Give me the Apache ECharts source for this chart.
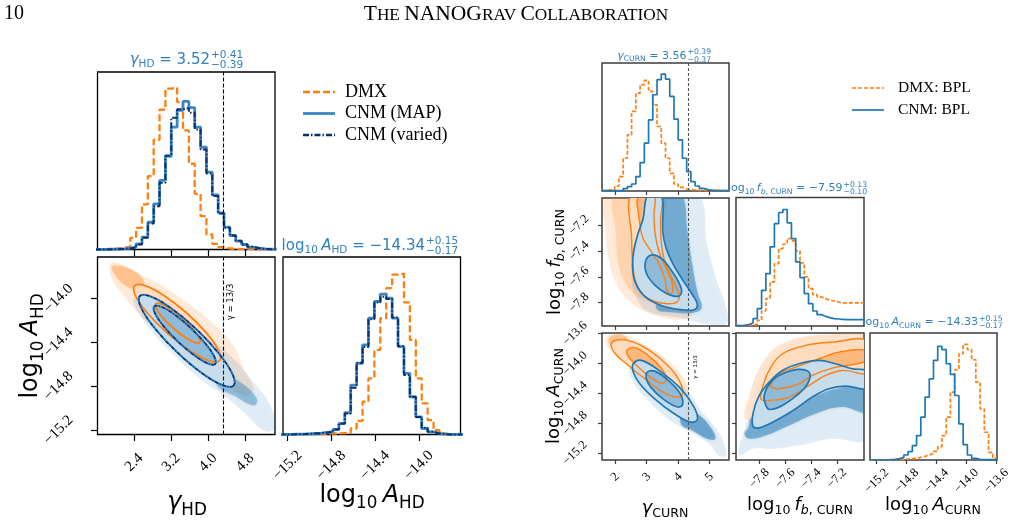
<!DOCTYPE html>
<html>
<head>
<meta charset="utf-8">
<title>NANOGrav corner plots</title>
<script src="https://cdn.jsdelivr.net/npm/echarts@6/dist/echarts.min.js"></script>
<style>
  html, body { margin: 0; padding: 0; background: #fff; }
  #chart { width: 1017px; height: 523px; }
</style>
</head>
<body>
<div id="chart"></div>
<script>
// ---- 颜色 ----
var ORANGE = '#ff7f0e', BLUE = '#1f77b4', MAP_BLUE = '#3a87c4', NAVY = '#0b2f6b'
var TITLE_BLUE = '#2f7fc1'

// ======== 左边: HD (gamma, log10 A) ========
var gammaGW = 13 / 3
var hdGammaRange = [1.607, 5.449]
var hdAmpRange = [-15.24, -13.62]
var hdGammaTicks = [2.4, 3.2, 4.0, 4.8]
var hdAmpTicks = [-15.2, -14.8, -14.4, -14.0]

// 直方图: [起点, 宽度] + 高度
var hdGammaBins = [1.555, 0.12685]
var hdGammaDmx = [1, 1, 2, 3, 5, 9, 35, 65, 135, 220, 329, 419, 482, 485, 442, 357, 257, 167, 100, 45, 17, 7, 3, 2, 1, 1, 1, 0, 0, 0, 0]
var hdGammaMap = [0, 0, 1, 1, 2, 4, 7, 17, 37, 82, 137, 207, 279, 367, 417, 444, 425, 367, 307, 232, 164, 110, 67, 42, 25, 15, 7, 4, 2, 1, 1]
var hdGammaVaried = [0, 0, 1, 1, 2, 3, 6, 15, 35, 78, 130, 200, 282, 395, 420, 424, 410, 360, 300, 228, 160, 108, 65, 42, 26, 15, 8, 4, 2, 1, 0]
var hdGammaMax = 532

var hdAmpBins = [-15.27, 0.054]
var hdAmpDmx = [0, 0, 0, 1, 1, 1, 2, 2, 3, 3, 4, 5, 18, 41, 98, 168, 253, 348, 438, 478, 481, 395, 283, 168, 93, 43, 13, 3, 1, 0, 0]
var hdAmpMap = [0, 0, 1, 1, 2, 3, 4, 6, 8, 15, 33, 65, 148, 213, 268, 348, 398, 420, 408, 348, 263, 183, 113, 53, 18, 8, 3, 1, 0, 0, 0]
var hdAmpVaried = [0, 0, 1, 1, 2, 3, 4, 6, 8, 15, 32, 63, 140, 215, 262, 345, 395, 412, 405, 350, 265, 178, 112, 52, 20, 8, 3, 1, 0, 0, 0]
var hdAmpMax = 531

// 2D: 点云轮廓 + 1σ/2σ 等高线 (gamma, log10 A)
var hdDmxCloud = [[1.888, -13.679], [2.177, -13.697], [2.537, -13.779], [2.969, -13.870], [3.546, -14.036], [4.123, -14.233], [4.555, -14.430], [4.771, -14.642], [4.987, -14.824], [4.843, -14.885], [4.483, -14.824], [4.123, -14.703], [3.546, -14.521], [2.969, -14.324], [2.537, -14.158], [2.177, -13.976], [1.924, -13.824]]
var hdDmxDense = [[1.924, -13.703], [2.249, -13.718], [2.537, -13.794], [2.609, -13.870], [2.393, -13.912], [2.177, -13.870], [1.996, -13.794]]
var hdCnmCloud = [[2.393, -14.006], [2.681, -13.976], [3.258, -14.097], [3.978, -14.339], [4.555, -14.552], [4.987, -14.764], [5.348, -14.976], [5.456, -15.188], [5.204, -15.203], [4.771, -15.036], [4.339, -14.885], [3.834, -14.733], [3.29, -14.53], [2.80, -14.31], [2.49, -14.12]]
var hdCnmDense = [[4.267, -14.703], [4.699, -14.764], [5.059, -14.915], [4.987, -14.976], [4.555, -14.885], [4.195, -14.794]]
var hdDmxOuter = [[4.249, -14.565], [4.025, -14.567], [3.616, -14.477], [3.129, -14.320], [2.697, -14.136], [2.434, -13.977], [2.411, -13.883], [2.634, -13.882], [3.044, -13.971], [3.530, -14.129], [3.963, -14.312], [4.226, -14.472]]
var hdDmxInner = [[3.820, -14.401], [3.709, -14.400], [3.500, -14.352], [3.249, -14.270], [3.024, -14.175], [2.884, -14.094], [2.868, -14.048], [2.979, -14.048], [3.188, -14.097], [3.439, -14.179], [3.664, -14.273], [3.804, -14.355]]
var hdCnmOuter = [[4.554, -14.794], [4.305, -14.788], [3.852, -14.675], [3.315, -14.483], [2.837, -14.265], [2.548, -14.080], [2.524, -13.976], [2.773, -13.982], [3.225, -14.095], [3.763, -14.286], [4.240, -14.504], [4.530, -14.690]]
var hdCnmInner = [[4.156, -14.596], [3.998, -14.592], [3.706, -14.518], [3.357, -14.395], [3.046, -14.256], [2.855, -14.137], [2.835, -14.071], [2.993, -14.075], [3.285, -14.148], [3.634, -14.272], [3.945, -14.411], [4.136, -14.530]]

// ======== 右边: CURN (gamma, log10 fb, log10 A) ========
var curnGammaRange = [1.58, 5.62]
var curnFbRange = [-7.98, -6.99]
var curnAmpRange = [-15.29, -13.59]
var curnGammaTicks = [2, 3, 4, 5]
var curnFbTicks = [-7.8, -7.6, -7.4, -7.2]
var curnAmpTicks = [-15.2, -14.8, -14.4, -14.0, -13.6]

var curnGammaBins = [1.58, 0.13467]
var curnGammaDmx = [1, 3, 5, 15, 43, 98, 168, 238, 293, 318, 331, 298, 258, 193, 143, 98, 53, 21, 11, 6, 4, 3, 2, 2, 1, 1, 1, 1, 1, 1]
var curnGammaCnm = [1, 1, 1, 1, 1, 7, 13, 21, 43, 85, 143, 213, 288, 333, 350, 335, 283, 215, 153, 98, 58, 28, 15, 8, 4, 2, 2, 1, 1, 1]
var curnGammaMax = 383

var curnFbBins = [-7.98, 0.033]
var curnFbDmx = [1, 1, 2, 3, 5, 17, 45, 82, 132, 187, 232, 245, 262, 255, 225, 189, 147, 112, 94, 87, 82, 77, 75, 72, 69, 69, 69, 69, 69, 70]
var curnFbCnm = [1, 2, 4, 9, 22, 52, 107, 157, 237, 307, 340, 349, 309, 262, 192, 145, 97, 67, 45, 34, 29, 25, 22, 21, 20, 19, 19, 19, 19, 19]
var curnFbMax = 385

var curnAmpBins = [-15.29, 0.05667]
var curnAmpDmx = [0, 0, 0, 0, 0, 1, 1, 2, 3, 4, 5, 8, 11, 15, 20, 26, 40, 73, 128, 203, 270, 318, 346, 330, 300, 233, 153, 83, 23, 6]
var curnAmpCnm = [0, 0, 0, 0, 1, 2, 4, 8, 15, 25, 43, 73, 128, 188, 243, 298, 340, 330, 288, 256, 193, 108, 46, 15, 5, 2, 1, 1, 1, 1]
var curnAmpMax = 380

// gamma - log10 fb
var gfDmxCloud = [[1.665, -6.96], [1.686, -7.226], [1.770, -7.431], [1.948, -7.610], [2.261, -7.738], [2.732, -7.841], [3.254, -7.897], [3.881, -7.931], [4.300, -7.918], [4.509, -7.867], [4.091, -7.738], [3.672, -7.482], [3.516, -7.226], [3.516, -6.96]]
var gfDmxDense = [[2.0, -6.96], [2.021, -7.277], [2.084, -7.482], [2.261, -7.623], [2.575, -7.726], [3.045, -7.790], [3.568, -7.821], [3.986, -7.815], [4.091, -7.738], [3.672, -7.482], [3.484, -7.226], [3.463, -6.96]]
var gfCnmCloud = [[3.045, -6.96], [4.613, -6.96], [4.927, -7.354], [5.240, -7.636], [5.501, -7.815], [5.554, -7.956], [5.031, -7.969], [4.091, -7.918], [3.045, -7.867], [2.627, -7.738], [2.523, -7.559], [2.627, -7.328]]
var gfCnmDense = [[3.442, -6.96], [4.10, -6.96], [4.30, -7.25], [4.45, -7.50], [4.62, -7.72], [4.75, -7.84], [4.50, -7.875], [3.90, -7.875], [3.30, -7.835], [3.568, -7.354]]
var gfDmxOuter = [[2.523, -6.96], [2.523, -7.303], [2.554, -7.482], [2.648, -7.636], [2.888, -7.738], [3.254, -7.790], [3.672, -7.808], [3.965, -7.795], [4.038, -7.751], [3.934, -7.674], [3.725, -7.572], [3.547, -7.456], [3.463, -7.328], [3.442, -7.174], [3.422, -6.96]]
var gfDmxInner = [[2.753, -6.96], [2.774, -7.174], [2.888, -7.303], [3.150, -7.405], [3.411, -7.508], [3.568, -7.610], [3.641, -7.700], [3.725, -7.733], [3.829, -7.713], [3.798, -7.636], [3.620, -7.533], [3.411, -7.418], [3.275, -7.277], [3.233, -7.123], [3.233, -6.96]]
var gfCnmOuter = [[3.045, -6.96], [2.888, -7.149], [2.711, -7.277], [2.585, -7.405], [2.554, -7.533], [2.648, -7.649], [2.941, -7.751], [3.463, -7.821], [4.091, -7.854], [4.509, -7.854], [4.613, -7.815], [4.456, -7.738], [4.143, -7.623], [3.829, -7.495], [3.620, -7.379], [3.516, -7.251], [3.463, -6.96]]
var gfCnmInner = [[3.150, -7.431], [2.962, -7.482], [2.993, -7.572], [3.254, -7.662], [3.620, -7.726], [3.986, -7.751], [4.111, -7.718], [4.038, -7.649], [3.777, -7.546], [3.463, -7.456]]

// gamma - log10 A
var gaDmxCloud = [[1.707, -13.667], [1.895, -13.60], [2.261, -13.613], [2.836, -13.721], [3.568, -13.913], [4.091, -14.136], [4.352, -14.359], [4.247, -14.582], [3.934, -14.560], [3.463, -14.426], [2.836, -14.203], [2.314, -14.002], [1.895, -13.846], [1.707, -13.747]]
var gaDmxDense = [[1.791, -13.667], [2.0, -13.613], [2.314, -13.631], [2.418, -13.712], [2.105, -13.779], [1.843, -13.756]]
var gaCnmCloud = [[2.523, -13.957], [2.888, -13.926], [3.568, -14.091], [4.300, -14.359], [4.770, -14.649], [5.136, -14.828], [5.397, -15.006], [5.533, -15.238], [5.293, -15.229], [4.979, -15.073], [4.561, -14.953], [4.143, -14.863], [3.568, -14.703], [2.941, -14.448], [2.575, -14.247], [2.439, -14.069]]
var gaCnmDense = [[4.195, -14.604], [4.613, -14.671], [5.031, -14.850], [5.188, -15.006], [4.927, -15.006], [4.456, -14.895], [4.091, -14.805]]
var gaDmxOuter = [[1.875, -13.734], [2.105, -13.680], [2.523, -13.703], [3.045, -13.810], [3.672, -14.024], [4.038, -14.225], [4.143, -14.404], [3.965, -14.448], [3.516, -14.381], [2.941, -14.203], [2.418, -14.024], [2.0, -13.868]]
var gaDmxInner = [[2.397, -13.810], [2.679, -13.792], [3.150, -13.926], [3.516, -14.091], [3.620, -14.225], [3.463, -14.261], [3.045, -14.158], [2.627, -14.002], [2.397, -13.890]]
var gaCnmOuter = [[2.575, -14.002], [2.836, -13.957], [3.463, -14.113], [4.091, -14.337], [4.509, -14.582], [4.613, -14.747], [4.404, -14.783], [3.881, -14.671], [3.254, -14.471], [2.784, -14.270], [2.575, -14.113]]
var gaCnmInner = [[3.024, -14.113], [3.275, -14.104], [3.725, -14.238], [4.070, -14.404], [4.143, -14.551], [3.965, -14.578], [3.516, -14.471], [3.129, -14.314], [2.993, -14.203]]

// log10 fb - log10 A
var faDmxCloud = [[-7.915, -14.716], [-7.877, -14.426], [-7.813, -14.113], [-7.723, -13.868], [-7.595, -13.712], [-7.415, -13.631], [-7.185, -13.60], [-6.96, -13.58], [-6.96, -14.136], [-7.236, -14.060], [-7.492, -14.091], [-7.672, -14.292], [-7.774, -14.560], [-7.864, -14.761]]
var faCnmCloud = [[-7.954, -15.229], [-7.928, -14.962], [-7.851, -14.716], [-6.96, -14.301], [-6.96, -15.006], [-7.236, -15.006], [-7.492, -15.096], [-7.697, -15.140], [-7.851, -15.140]]
var faCnmDense = [[-7.890, -14.872], [-7.851, -14.716], [-7.621, -14.627], [-7.364, -14.426], [-7.185, -14.328], [-6.96, -14.301], [-6.96, -14.649], [-7.159, -14.582], [-7.364, -14.671], [-7.569, -14.828], [-7.749, -14.962], [-7.877, -15.006], [-7.915, -14.939]]
var faDmxOuter = [[-7.787, -14.471], [-7.762, -14.247], [-7.710, -14.046], [-7.621, -13.868], [-7.441, -13.756], [-7.236, -13.712], [-6.96, -13.703], [-6.96, -14.113], [-7.159, -14.091], [-7.287, -14.158], [-7.415, -14.292], [-7.569, -14.448], [-7.723, -14.493]]
var faDmxInner = [[-7.710, -14.283], [-7.659, -14.149], [-7.518, -14.046], [-7.338, -13.935], [-7.185, -13.846], [-6.96, -13.828], [-6.96, -13.957], [-7.236, -14.060], [-7.390, -14.158], [-7.492, -14.270], [-7.646, -14.337], [-7.703, -14.319]]
var faCnmOuter = [[-7.851, -14.828], [-7.846, -14.649], [-7.80, -14.426], [-7.723, -14.247], [-7.621, -14.091], [-7.492, -14.002], [-7.338, -13.957], [-7.210, -14.002], [-7.082, -14.069], [-6.96, -14.104], [-6.96, -14.328], [-7.133, -14.301], [-7.262, -14.337], [-7.390, -14.448], [-7.518, -14.604], [-7.646, -14.738], [-7.749, -14.828], [-7.813, -14.863]]
var faCnmInner = [[-7.749, -14.560], [-7.762, -14.426], [-7.710, -14.247], [-7.621, -14.136], [-7.505, -14.078], [-7.421, -14.104], [-7.410, -14.203], [-7.454, -14.337], [-7.544, -14.471], [-7.646, -14.582], [-7.723, -14.613]]

// ---- 面板位置 [left, top, width, height] ----
var panels = [
  [97.5, 72, 177.5, 177.5], [97.5, 257, 177.5, 177.5], [283, 257, 177.5, 177.5],
  [602, 63, 127, 128], [602, 198, 127, 128], [736, 197.5, 128, 128.5],
  [602, 333, 127, 127], [736, 333, 128, 127], [870, 333, 127, 127]
]

function fmt (dec) {
  return function (v) { return (v < 0 ? '\u2212' : '') + Math.abs(v).toFixed(dec) }
}

function valueAxis (gi, range, ticks, margin, dec) {
  var small = gi > 2
  return {
    type: 'value', gridIndex: gi, min: range[0], max: range[1],
    axisLine: { show: false },
    splitLine: { show: false },
    axisTick: { show: true, customValues: ticks, length: small ? 4 : 6.5,
      lineStyle: { color: small ? '#3d3d3d' : '#000', width: 1.2 } },
    axisLabel: { show: !!margin, customValues: ticks, rotate: 45, align: 'center', verticalAlign: 'middle',
      margin: margin || 8, formatter: fmt(dec == null ? 1 : dec),
      fontFamily: 'Liberation Serif', fontSize: small ? 12.5 : 15, color: '#000' }
  }
}
function hiddenAxis (gi, max) {
  return { type: 'value', gridIndex: gi, min: 0, max: max, show: false }
}

// 直方图阶梯线
function steps (bins, h) {
  var pts = h.map(function (v, i) { return [bins[0] + i * bins[1], v] })
  pts.push([bins[0] + h.length * bins[1], h[h.length - 1]])
  return pts
}
function histLine (gi, bins, h, color, width, dash) {
  return {
    type: 'line', xAxisIndex: gi, yAxisIndex: gi, step: 'end', symbol: 'none', silent: true, z: 3,
    data: steps(bins, h), lineStyle: { color: color, width: width, type: dash || 'solid' }
  }
}
// gamma = 13/3 竖线
function gwLine (gi, color, dash) {
  return {
    type: 'line', xAxisIndex: gi, yAxisIndex: gi, data: [], silent: true, z: 9,
    markLine: { silent: true, symbol: 'none', label: { show: false }, animation: false,
      lineStyle: { color: color, width: 1.1, type: dash }, data: [{ xAxis: gammaGW }] }
  }
}
// 多边形 (轮廓/点云)
function poly (gi, pts, style, z) {
  return {
    type: 'custom', xAxisIndex: gi, yAxisIndex: gi, clip: true, silent: true, z: z, data: [0],
    renderItem: function (params, api) {
      return {
        type: 'polygon',
        shape: { points: pts.map(function (p) { return api.coord(p) }), smooth: 0.4 },
        style: style
      }
    }
  }
}
function cloud (gi, pts, color) { return poly(gi, pts, { fill: color, shadowBlur: 3, shadowColor: color }, 1) }
function blank (gi, pts, z) { return poly(gi, pts, { fill: '#fff' }, z) }
function area (gi, pts, color, z) { return poly(gi, pts, { fill: color }, z) }
function edge (gi, pts, color, w, dash, z) {
  return poly(gi, pts, { fill: 'none', stroke: color, lineWidth: w, lineDash: dash || null }, z)
}

var O2 = 'rgba(255,127,14,0.27)', O1 = 'rgba(255,127,14,0.38)'
var B2 = 'rgba(31,119,180,0.25)', B1 = 'rgba(31,119,180,0.33)'
var OC = 'rgba(255,127,14,0.14)', BC = 'rgba(31,119,180,0.12)'

// 先画 DMX, 再画 CNM (白底盖住下面的点云)
function contours (gi, d, lw, blueLine) {
  return [
    cloud(gi, d.oc, OC), cloud(gi, d.od, d.odColor), cloud(gi, d.bc, BC), cloud(gi, d.bd, d.bdColor),
    blank(gi, d.o2, 2),
    area(gi, d.o2, O2, 3), area(gi, d.o1, O1, 3),
    blank(gi, d.b2, 4),
    area(gi, d.b2, B2, 5), area(gi, d.b1, B1, 5),
    edge(gi, d.o2, ORANGE, lw, null, 6), edge(gi, d.o1, ORANGE, lw, null, 6),
    edge(gi, d.b2, blueLine, lw + 0.3, null, 7), edge(gi, d.b1, blueLine, lw + 0.3, null, 7)
  ]
}

var series = [].concat(
  // 左上: gamma HD
  histLine(0, hdGammaBins, hdGammaDmx, ORANGE, 2.3, [7, 3]),
  histLine(0, hdGammaBins, hdGammaMap, MAP_BLUE, 2.8),
  histLine(0, hdGammaBins, hdGammaVaried, NAVY, 2, [6, 2, 1.5, 2]),
  gwLine(0, '#000', [4, 2]),
  // 左下: 2D
  contours(1, { oc: hdDmxCloud, od: hdDmxDense, odColor: 'rgba(255,127,14,0.3)', bc: hdCnmCloud, bd: hdCnmDense, bdColor: 'rgba(31,119,180,0.35)',
    o2: hdDmxOuter, o1: hdDmxInner, b2: hdCnmOuter, b1: hdCnmInner }, 1.8, MAP_BLUE),
  edge(1, hdCnmOuter, NAVY, 1.4, [4, 1.5, 1, 1.5], 8),
  edge(1, hdCnmInner, NAVY, 1.4, [4, 1.5, 1, 1.5], 8),
  gwLine(1, '#000', [4, 2]),
  // 右下: log10 A HD
  histLine(2, hdAmpBins, hdAmpDmx, ORANGE, 2.3, [7, 3]),
  histLine(2, hdAmpBins, hdAmpMap, MAP_BLUE, 2.8),
  histLine(2, hdAmpBins, hdAmpVaried, NAVY, 2, [6, 2, 1.5, 2]),
  // CURN 直方图
  histLine(3, curnGammaBins, curnGammaDmx, ORANGE, 1.7, [4, 2]),
  histLine(3, curnGammaBins, curnGammaCnm, BLUE, 1.7),
  gwLine(3, '#555', [3, 2]),
  histLine(5, curnFbBins, curnFbDmx, ORANGE, 1.7, [4, 2]),
  histLine(5, curnFbBins, curnFbCnm, BLUE, 1.7),
  histLine(8, curnAmpBins, curnAmpDmx, ORANGE, 1.7, [4, 2]),
  histLine(8, curnAmpBins, curnAmpCnm, BLUE, 1.7),
  // CURN 2D
  contours(4, { oc: gfDmxCloud, od: gfDmxDense, odColor: 'rgba(255,127,14,0.18)', bc: gfCnmCloud, bd: gfCnmDense, bdColor: 'rgba(31,119,180,0.45)',
    o2: gfDmxOuter, o1: gfDmxInner, b2: gfCnmOuter, b1: gfCnmInner }, 1.4, BLUE),
  gwLine(4, '#555', [3, 2]),
  contours(6, { oc: gaDmxCloud, od: gaDmxDense, odColor: 'rgba(255,127,14,0.3)', bc: gaCnmCloud, bd: gaCnmDense, bdColor: 'rgba(31,119,180,0.5)',
    o2: gaDmxOuter, o1: gaDmxInner, b2: gaCnmOuter, b1: gaCnmInner }, 1.4, BLUE),
  gwLine(6, '#555', [3, 2]),
  contours(7, { oc: faDmxCloud, od: faDmxCloud, odColor: 'rgba(255,127,14,0.05)', bc: faCnmCloud, bd: faCnmDense, bdColor: 'rgba(31,119,180,0.45)',
    o2: faDmxOuter, o1: faDmxInner, b2: faCnmOuter, b1: faCnmInner }, 1.4, BLUE)
)

// ---- 文字 ----
function mathText (x, y, text, size, color, align, rotation) {
  var sub = size * 0.7, pad = size * 0.6
  var el = {
    type: 'text', x: x, y: y, silent: true, z: 100,
    style: {
      text: text, fill: color, fontSize: size, fontFamily: 'DejaVu Sans',
      align: align || 'center', verticalAlign: 'middle',
      rich: {
        r: { fontSize: size, fontFamily: 'DejaVu Sans', fill: color },
        i: { fontSize: size, fontFamily: 'DejaVu Sans', fontStyle: 'italic', fill: color },
        s: { fontSize: sub, fontFamily: 'DejaVu Sans', fill: color, padding: [pad, 0, 0, 0] },
        si: { fontSize: sub, fontFamily: 'DejaVu Sans', fontStyle: 'italic', fill: color, padding: [pad, 0, 0, 0] }
      }
    }
  }
  if (rotation) el.rotation = rotation
  return el
}
function errText (x, y, up, down, size) {
  function t (yy, s) {
    return { type: 'text', x: x, y: yy, silent: true, z: 100,
      style: { text: s, fill: TITLE_BLUE, fontSize: size, fontFamily: 'DejaVu Sans', align: 'left', verticalAlign: 'middle' } }
  }
  return [t(y - size * 0.48, up), t(y + size * 0.52, down)]
}
function plainText (x, y, s, size, family, align, extra) {
  var el = { type: 'text', x: x, y: y, silent: true, z: 100,
    style: { text: s, fill: '#000', fontSize: size, fontFamily: family, align: align || 'left', verticalAlign: 'middle' } }
  if (extra) Object.assign(el, extra)
  return el
}
function legendLine (x1, x2, y, color, w, dash) {
  return { type: 'line', silent: true, z: 100, shape: { x1: x1, y1: y, x2: x2, y2: y },
    style: { stroke: color, lineWidth: w, lineDash: dash || null } }
}

var graphic = [].concat(
  // 页眉
  plainText(4, 14, '10', 20, 'Liberation Serif', 'left'),
  {
    type: 'text', x: 516, y: 14, silent: true, z: 100,
    style: {
      text: '{b|T}{s|HE }{b|NANOG}{s|RAV }{b|C}{s|OLLABORATION}', fill: '#000', align: 'center', verticalAlign: 'middle',
      rich: {
        b: { fontSize: 21.5, fontFamily: 'Liberation Serif', fill: '#000', verticalAlign: 'bottom' },
        s: { fontSize: 17.3, fontFamily: 'Liberation Serif', fill: '#000', verticalAlign: 'bottom', padding: [0, 0, 1, 0] }
      }
    }
  },
  // 左: 标题
  mathText(210, 60, '{i|γ}{s|HD}{r| = 3.52}', 15, TITLE_BLUE, 'right'),
  errText(211, 60, '+0.41', '\u22120.39', 10.5),
  mathText(425, 246, '{r|log}{s|10 }{i|A}{s|HD}{r| = \u221214.34}', 15, TITLE_BLUE, 'right'),
  errText(426, 246, '+0.15', '\u22120.17', 10.5),
  // 左: 轴标签
  mathText(187, 503, '{i|γ}{s|HD}', 24, '#000'),
  mathText(372, 496, '{r|log}{s|10 }{i|A}{s|HD}', 24, '#000'),
  mathText(31, 346, '{r|log}{s|10 }{i|A}{s|HD}', 24, '#000', 'center', Math.PI / 2),
  plainText(231, 302, 'γ = 13/3', 8.5, 'DejaVu Sans', 'center', { rotation: Math.PI / 2 }),
  // 左: 图例
  legendLine(303, 335, 92, ORANGE, 2.5, [7, 3]),
  legendLine(303, 335, 113.5, MAP_BLUE, 2.8),
  legendLine(303, 335, 135, NAVY, 2.4, [6, 2, 1.5, 2]),
  plainText(345, 92, 'DMX', 18, 'Liberation Serif'),
  plainText(345, 113.5, 'CNM (MAP)', 18, 'Liberation Serif'),
  plainText(345, 135, 'CNM (varied)', 18, 'Liberation Serif'),
  // 右: 标题
  mathText(686.5, 56, '{i|γ}{s|CURN}{r| = 3.56}', 11, TITLE_BLUE, 'right'),
  errText(687.5, 56, '+0.39', '\u22120.37', 7.7),
  mathText(842.5, 188.5, '{r|log}{s|10 }{i|f}{si|b}{s|, CURN}{r| = \u22127.59}', 11, TITLE_BLUE, 'right'),
  errText(843.5, 188.5, '+0.13', '\u22120.10', 7.7),
  mathText(978, 322.5, '{r|log}{s|10 }{i|A}{s|CURN}{r| = \u221214.33}', 11, TITLE_BLUE, 'right'),
  errText(979, 322.5, '+0.15', '\u22120.17', 7.7),
  // 右: 轴标签
  mathText(555, 262, '{r|log}{s|10 }{i|f}{si|b}{s|, CURN}', 18, '#000', 'center', Math.PI / 2),
  mathText(554, 396, '{r|log}{s|10 }{i|A}{s|CURN}', 18, '#000', 'center', Math.PI / 2),
  mathText(665, 508, '{i|γ}{s|CURN}', 18, '#000'),
  mathText(800, 505, '{r|log}{s|10 }{i|f}{si|b}{s|, CURN}', 18, '#000'),
  mathText(933, 505, '{r|log}{s|10 }{i|A}{s|CURN}', 18, '#000'),
  plainText(695.5, 367, 'γ = 13/3', 5.5, 'DejaVu Sans', 'center', { rotation: Math.PI / 2 }),
  // 右: 图例
  legendLine(852, 884, 88, ORANGE, 1.7, [4, 2]),
  legendLine(852, 884, 110, BLUE, 1.7),
  plainText(898, 88, 'DMX: BPL', 15.5, 'Liberation Serif'),
  plainText(898, 110, 'CNM: BPL', 15.5, 'Liberation Serif')
)

var option = {
  animation: false,
  backgroundColor: '#fff',
  grid: panels.map(function (p, i) {
    return { left: p[0], top: p[1], width: p[2], height: p[3], show: true, backgroundColor: 'transparent',
      borderColor: i < 3 ? '#000' : '#3d3d3d', borderWidth: i < 3 ? 1.3 : 1.5 }
  }),
  xAxis: [
    valueAxis(0, hdGammaRange, hdGammaTicks),
    valueAxis(1, hdGammaRange, hdGammaTicks, 28),
    valueAxis(2, hdAmpRange, hdAmpTicks, 31),
    valueAxis(3, curnGammaRange, curnGammaTicks),
    valueAxis(4, curnGammaRange, curnGammaTicks),
    valueAxis(5, curnFbRange, curnFbTicks),
    valueAxis(6, curnGammaRange, curnGammaTicks, 17, 0),
    valueAxis(7, curnFbRange, curnFbTicks, 18.5),
    valueAxis(8, curnAmpRange, curnAmpTicks, 21)
  ],
  yAxis: [
    hiddenAxis(0, hdGammaMax),
    valueAxis(1, hdAmpRange, hdAmpTicks, 39),
    hiddenAxis(2, hdAmpMax),
    hiddenAxis(3, curnGammaMax),
    valueAxis(4, curnFbRange, curnFbTicks, 23),
    hiddenAxis(5, curnFbMax),
    valueAxis(6, curnAmpRange, curnAmpTicks, 27),
    valueAxis(7, curnAmpRange, curnAmpTicks),
    hiddenAxis(8, curnAmpMax)
  ],
  series: series,
  graphic: graphic
}

var myChart = echarts.init(document.getElementById('chart'))
myChart.setOption(option)
</script>
</body>
</html>
